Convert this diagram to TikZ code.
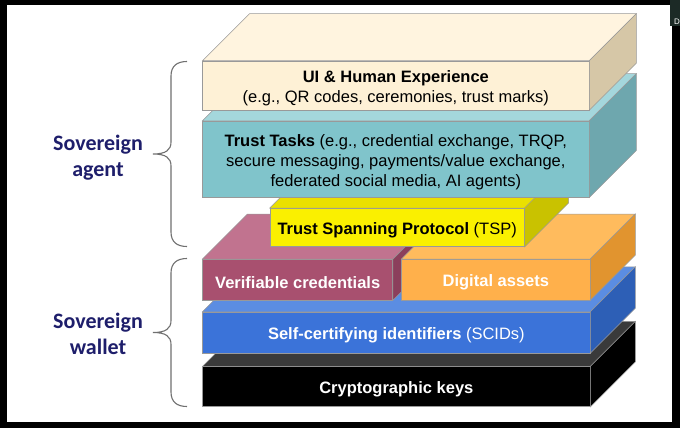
\documentclass[tikz,border=0pt]{standalone}
\usepackage{fontspec}
\setmainfont{Liberation Sans}
\newfontfamily\calfont{Carlito}
\usepackage{tikz}
\usetikzlibrary{calc}

\definecolor{uifront}{HTML}{FEF1D6}
\definecolor{uitop}{HTML}{FFF4DF}
\definecolor{uiside}{HTML}{D6C7A7}
\definecolor{taskfront}{HTML}{80C4CB}
\definecolor{tasktop}{HTML}{A4D7DC}
\definecolor{taskside}{HTML}{6EA7AE}
\definecolor{tspfront}{HTML}{FAF000}
\definecolor{tsptop}{HTML}{EAE000}
\definecolor{tspside}{HTML}{C9C200}
\definecolor{vcfront}{HTML}{A8506F}
\definecolor{vctop}{HTML}{C1738F}
\definecolor{vcside}{HTML}{8B3F5C}
\definecolor{assetfront}{HTML}{FFB04B}
\definecolor{assettop}{HTML}{FFBB5D}
\definecolor{assetside}{HTML}{E1942F}
\definecolor{scidfront}{HTML}{3B73D9}
\definecolor{scidtop}{HTML}{5B8DE2}
\definecolor{scidside}{HTML}{2D5FB6}
\definecolor{keytop}{HTML}{3A3A3A}
\definecolor{navy}{HTML}{1E1E6B}
\definecolor{bracegray}{HTML}{707070}
\definecolor{tagdark}{HTML}{1C2A26}

\tikzset{
  face/.style={draw=black!40, line width=0.5pt},
  slab/.style={face, inner sep=0pt},
  layertext/.style={inner sep=0pt, align=center, yshift=-3pt, font=\fontsize{16.5}{20}\selectfont},
  sidelabel/.style={align=center, text=navy, font=\calfont\bfseries\fontsize{22}{26}\selectfont},
  bracket/.style={draw=bracegray, line width=1.1pt},
}
% top and right faces of a slab, drawn from its front node
\newcommand{\sides}[4]{%
  \filldraw[face, fill=#2] (#1.north west) -- ++(#4,-#4) -- ($(#1.north east)+(#4,-#4)$) -- (#1.north east) -- cycle;
  \filldraw[face, fill=#3] (#1.north east) -- ++(#4,-#4) -- ($(#1.south east)+(#4,-#4)$) -- (#1.south east) -- cycle;}

\begin{document}
\begin{tikzpicture}[x=1pt,y=-1pt]
\useasboundingbox (0,0) rectangle (680,428);
\fill[black] (0,0) rectangle (680,428);
\fill[white] (7,5) rectangle (672,422);
\fill[tagdark] (670,0) rectangle (680,26);
\node[text=white, inner sep=0pt, anchor=base west, font=\fontsize{8}{8}\selectfont] (tag) at (674,25) {D};

\node[slab, fill=black, minimum width=387.3pt, minimum height=40pt] (keysslab) at (396.35,386.7) {};
\sides{keysslab}{keytop}{black}{45}
\node[layertext, text=white] (keys) at (keysslab) {\textbf{Cryptographic keys}};

\node[slab, fill=scidfront, minimum width=387.3pt, minimum height=41pt] (scidsslab) at (396.35,332.5) {};
\sides{scidsslab}{scidtop}{scidside}{45}
\node[layertext, text=white] (scids) at (scidsslab) {\textbf{Self-certifying identifiers} (SCIDs)};

\node[slab, fill=vcfront, minimum width=190pt, minimum height=40.7pt] (vcslab) at (297.7,279.6) {};
\sides{vcslab}{vctop}{vcside}{45}
\node[layertext, text=white] (vc) at (vcslab) {\textbf{Verifiable credentials}};

\node[slab, fill=assetfront, minimum width=188.3pt, minimum height=40.7pt] (assetsslab) at (495.85,279.6) {};
\sides{assetsslab}{assettop}{assetside}{45}
\node[layertext, text=white] (assets) at (assetsslab) {\textbf{Digital assets}};

\node[slab, fill=tspfront, minimum width=254.3pt, minimum height=38.4pt] (tspslab) at (397.15,227.5) {};
\sides{tspslab}{tsptop}{tspside}{44}
\node[layertext] (tsp) at (tspslab) {\textbf{Trust Spanning Protocol} (TSP)};

\node[slab, fill=taskfront, minimum width=386.3pt, minimum height=76.3pt] (tasksslab) at (395.85,159.15) {};
\sides{tasksslab}{tasktop}{taskside}{47}
\node[layertext] (tasks) at (tasksslab) {\textbf{Trust Tasks} (e.g., credential exchange, TRQP,\\secure messaging, payments/value exchange,\\federated social media, AI agents)};

\node[slab, fill=uifront, minimum width=386.3pt, minimum height=49pt] (uislab) at (395.85,85.5) {};
\sides{uislab}{uitop}{uiside}{47}
\node[layertext] (ui) at (uislab) {\textbf{UI \& Human Experience}\\(e.g., QR codes, ceremonies, trust marks)};

\draw[bracket] (187,61.5) .. controls (177,61.5) and (171,66) .. (171,76) -- (171,142) .. controls (171,150) and (166,154) .. (153,154) .. controls (166,154) and (171,158) .. (171,166) -- (171,232) .. controls (171,242) and (177,246.5) .. (187,246.5);
\draw[bracket] (187,258.5) .. controls (177,258.5) and (171,263) .. (171,273) -- (171,320.5) .. controls (171,328.5) and (166,332.5) .. (153,332.5) .. controls (166,332.5) and (171,336.5) .. (171,344.5) -- (171,392) .. controls (171,402) and (177,406.5) .. (187,406.5);

\node[sidelabel] (agent) at (98,158) {Sovereign\\agent};
\node[sidelabel] (wallet) at (98,333.5) {Sovereign\\wallet};
\end{tikzpicture}
\end{document}
